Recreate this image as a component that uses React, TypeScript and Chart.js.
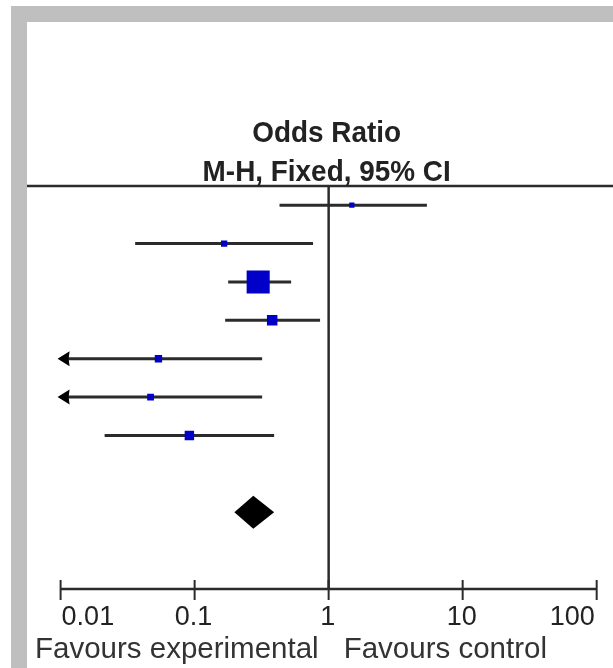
import { useEffect, useRef } from "react";
import { Chart, registerables } from "chart.js";

Chart.register(...registerables);

// ---- data ----
const studyRows = [1, 2, 3, 4, 5, 6, 7];
const oddsRatios = [1.49, 0.166, 0.298, 0.379, 0.0537, 0.0469, 0.0914];
const ciLower = [0.43, 0.036, 0.178, 0.169, 0.002, 0.0015, 0.0213];
const ciUpper = [5.41, 0.765, 0.525, 0.863, 0.319, 0.319, 0.392];
const weights = [3.1, 4.4, 59.2, 12.2, 6.0, 5.1, 9.9];
const pooledRow = [9];
const pooledOR = [0.274];
const pooledLower = [0.198];
const pooledUpper = [0.392];
const tickValues = [0.01, 0.1, 1, 10, 100];
const tickLabels = ["0.01", "0.1", "1", "10", "100"];
const titleLines = ["Odds Ratio", "M-H, Fixed, 95% CI"];
const favourLabels = ["Favours experimental", "Favours control"];

const W = 613;
const H = 668;
const LINE = "#2b2b2b";
const BLUE = "#0000c8";
const FONT = "'Liberation Sans', Arial, sans-serif";

const forestPlugin = {
  id: "forest",
  beforeDraw(chart: any) {
    const ctx = chart.ctx;
    ctx.save();
    ctx.fillStyle = "#ffffff";
    ctx.fillRect(0, 0, W, H);
    ctx.fillStyle = "#bfbfbf";
    ctx.fillRect(11, 6, W - 11, H - 6);
    ctx.fillStyle = "#ffffff";
    ctx.fillRect(27, 22, W - 27, H - 22);
    ctx.restore();
  },
  beforeDatasetsDraw(chart: any) {
    const ctx = chart.ctx;
    const xs = chart.scales.x;
    const area = chart.chartArea;
    ctx.save();
    ctx.strokeStyle = LINE;
    ctx.lineWidth = 2.5;
    ctx.beginPath();
    ctx.moveTo(27, area.top);
    ctx.lineTo(W, area.top);
    ctx.stroke();
    const x1 = xs.getPixelForValue(1);
    ctx.lineWidth = 2.5;
    ctx.beginPath();
    ctx.moveTo(x1, area.top);
    ctx.lineTo(x1, area.bottom);
    ctx.stroke();
    ctx.restore();
  },
  afterDatasetsDraw(chart: any) {
    const ctx = chart.ctx;
    const xs = chart.scales.x;
    const ys = chart.scales.y;
    const area = chart.chartArea;
    ctx.save();

    // arrows for CIs beyond the axis
    ctx.fillStyle = "#000";
    studyRows.forEach((r, i) => {
      const y = ys.getPixelForValue(r);
      if (ciLower[i] < xs.min) {
        const tip = area.left - 3;
        ctx.beginPath();
        ctx.moveTo(tip, y);
        ctx.lineTo(tip + 12, y - 7.5);
        ctx.lineTo(tip + 11, y);
        ctx.lineTo(tip + 12, y + 7.5);
        ctx.closePath();
        ctx.fill();
      }
      if (ciUpper[i] > xs.max) {
        const tip = area.right + 3;
        ctx.beginPath();
        ctx.moveTo(tip, y);
        ctx.lineTo(tip - 12, y - 7.5);
        ctx.lineTo(tip - 11, y);
        ctx.lineTo(tip - 12, y + 7.5);
        ctx.closePath();
        ctx.fill();
      }
    });

    // pooled diamond
    pooledRow.forEach((r, i) => {
      const y = ys.getPixelForValue(r);
      const xl = xs.getPixelForValue(pooledLower[i]);
      const xm = xs.getPixelForValue(pooledOR[i]);
      const xu = xs.getPixelForValue(pooledUpper[i]);
      ctx.fillStyle = "#000";
      ctx.beginPath();
      ctx.moveTo(xl, y);
      ctx.lineTo(xm, y - 16.5);
      ctx.lineTo(xu, y);
      ctx.lineTo(xm, y + 16.5);
      ctx.closePath();
      ctx.fill();
    });

    // x axis
    const axisY = area.bottom;
    ctx.strokeStyle = LINE;
    ctx.lineWidth = 2.5;
    ctx.beginPath();
    ctx.moveTo(xs.getPixelForValue(tickValues[0]), axisY);
    ctx.lineTo(xs.getPixelForValue(tickValues[tickValues.length - 1]), axisY);
    ctx.stroke();
    ctx.lineWidth = 2;
    tickValues.forEach((v) => {
      const x = xs.getPixelForValue(v);
      ctx.beginPath();
      ctx.moveTo(x, axisY - 9);
      ctx.lineTo(x, axisY + 11);
      ctx.stroke();
    });

    // tick labels
    ctx.fillStyle = "#222";
    ctx.font = `27px ${FONT}`;
    ctx.textBaseline = "alphabetic";
    tickValues.forEach((v, i) => {
      const x = xs.getPixelForValue(v);
      if (i === 0) {
        ctx.textAlign = "left";
        ctx.fillText(tickLabels[i], x + 1, axisY + 36);
      } else if (i === tickValues.length - 1) {
        ctx.textAlign = "right";
        ctx.fillText(tickLabels[i], x - 2, axisY + 36);
      } else {
        ctx.textAlign = "center";
        ctx.fillText(tickLabels[i], x - 1, axisY + 36);
      }
    });

    // favours labels
    const x1 = xs.getPixelForValue(1);
    ctx.font = `29.5px ${FONT}`;
    ctx.fillStyle = "#333";
    ctx.textAlign = "right";
    ctx.fillText(favourLabels[0], x1 - 10, axisY + 69);
    ctx.textAlign = "left";
    ctx.fillText(favourLabels[1], x1 + 15, axisY + 69);

    // header titles
    ctx.fillStyle = "#222";
    ctx.font = `bold 30px ${FONT}`;
    ctx.textAlign = "center";
    const cx = x1 - 2;
    [141.5, 181].forEach((by, i) => {
      ctx.save();
      ctx.translate(cx, by);
      ctx.scale(0.93, 1);
      ctx.fillText(titleLines[i], 0, 0);
      ctx.restore();
    });

    ctx.restore();
  },
};

export default function App() {
  const ref = useRef<HTMLCanvasElement | null>(null);

  useEffect(() => {
    if (!ref.current) return;
    const ciSets = studyRows.map((r, i) => ({
      type: "line" as const,
      data: [
        { x: ciLower[i], y: r },
        { x: ciUpper[i], y: r },
      ],
      borderColor: LINE,
      borderWidth: 3,
      pointRadius: 0,
      borderCapStyle: "butt" as const,
      order: 1,
    }));
    const markerSet = {
      type: "scatter" as const,
      data: studyRows.map((r, i) => ({ x: oddsRatios[i], y: r })),
      pointStyle: "rect" as const,
      pointRadius: weights.map((w) => (3.0 * Math.sqrt(w)) / (2 * Math.SQRT1_2)),
      pointBackgroundColor: BLUE,
      pointBorderColor: BLUE,
      pointBorderWidth: 0,
      order: 0,
    };
    const chart = new Chart(ref.current, {
      type: "scatter",
      data: { datasets: [markerSet as any, ...(ciSets as any[])] },
      options: {
        animation: false,
        responsive: false,
        maintainAspectRatio: false,
        events: [],
        layout: { padding: { left: 60.6, right: 15, top: 186, bottom: 79 } },
        plugins: {
          legend: { display: false },
          tooltip: { enabled: false },
          title: { display: false },
        },
        scales: {
          x: { type: "logarithmic", min: 0.01, max: 100, display: false },
          y: { type: "linear", min: 0.5, max: 11, reverse: true, display: false },
        },
      },
      plugins: [forestPlugin],
    });
    return () => chart.destroy();
  }, []);

  return (
    <div style={{ position: "fixed", left: 0, top: 0, width: W, height: H, background: "#fff" }}>
      <canvas ref={ref} width={W} height={H} style={{ width: W, height: H, display: "block" }} />
    </div>
  );
}
